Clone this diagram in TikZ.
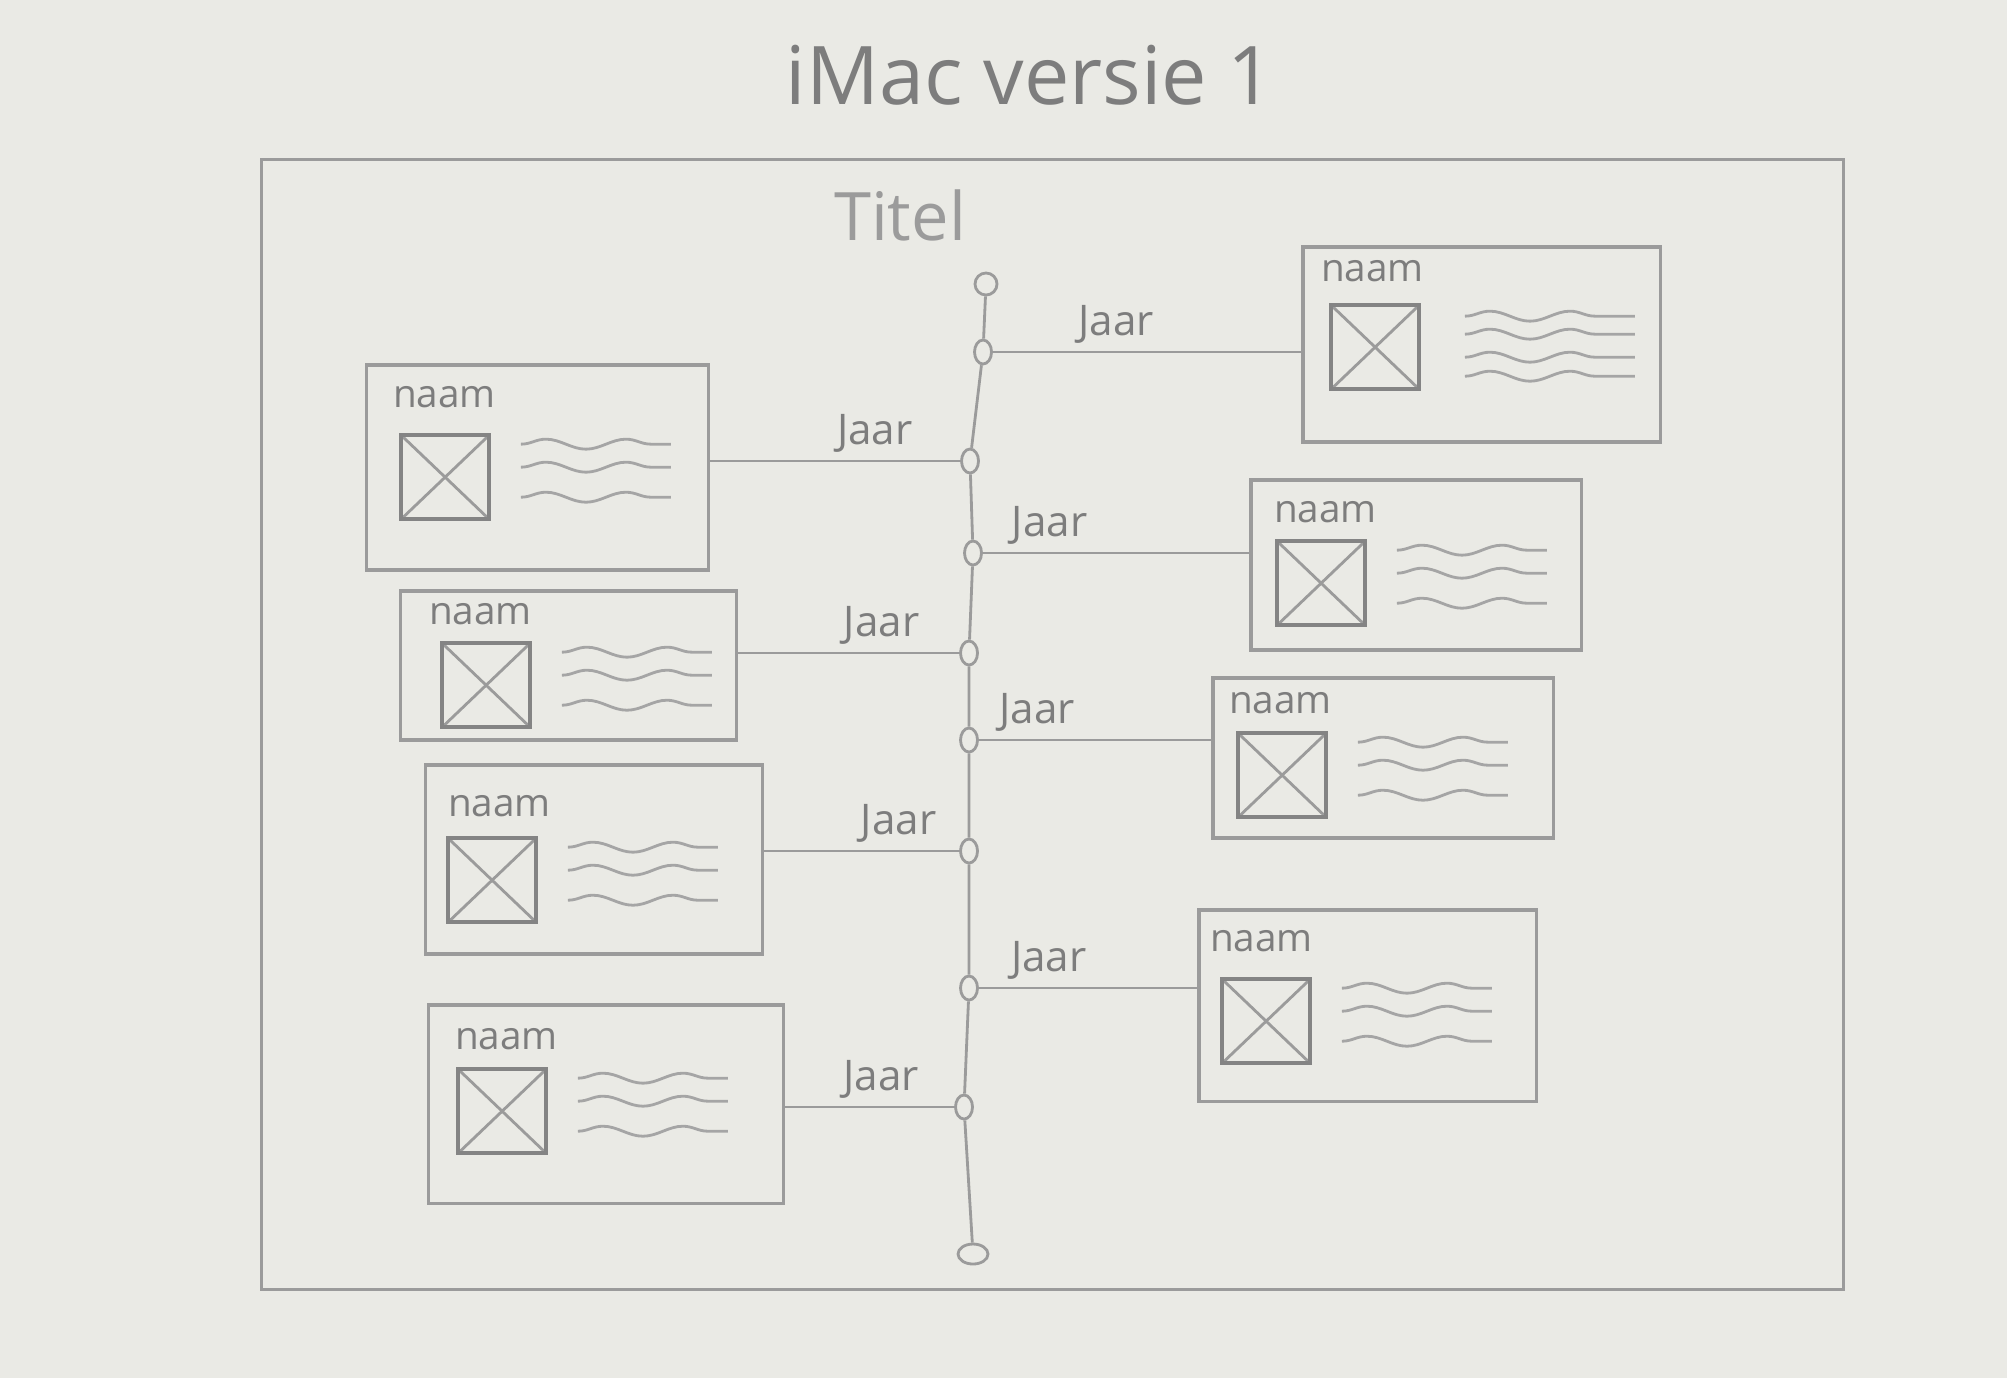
\documentclass[tikz,border=0pt]{standalone}
\usepackage{fontspec}
\setmainfont{Open Sans}
\usetikzlibrary{positioning, shapes.geometric, decorations.pathmorphing}

\definecolor{paper}{RGB}{234,234,229}
\definecolor{pencil}{RGB}{155,155,155}
\definecolor{lead}{RGB}{125,125,125}

\begin{document}
\begin{tikzpicture}[
    x=0.01cm, y=-0.01cm,
    screen/.style={rectangle, draw=pencil, line width=0.8pt, minimum width=15.81cm, minimum height=11.29cm},
    card/.style={rectangle, draw=pencil, line width=0.9pt, inner sep=0pt},
    img/.style={rectangle, draw=pencil!85!black, line width=1pt, minimum width=0.88cm, minimum height=0.84cm, inner sep=0pt,
        path picture={\draw[pencil, line width=0.8pt] (path picture bounding box.north west) -- (path picture bounding box.south east)
            (path picture bounding box.north east) -- (path picture bounding box.south west);}},
    naam/.style={font=\fontsize{11}{13}\selectfont, text=lead, inner sep=0pt},
    jaar/.style={font=\fontsize{12}{14}\selectfont, text=lead, inner sep=2pt},
    dot/.style={ellipse, draw=pencil, fill=paper, line width=0.8pt, minimum width=0.17cm, minimum height=0.24cm, inner sep=0pt},
    wave/.style={draw=pencil!90, line width=0.8pt, decorate, decoration={snake, amplitude=0.5mm, segment length=8mm}},
    link/.style={draw=pencil, line width=0.8pt},
]

\fill[paper] (0,0) rectangle (2007,1378);

% Headings
\node[font=\fontsize{23}{27}\selectfont, text=lead] (imac) at (1030,75) {iMac versie 1};
\node[screen] (scherm) at (1052.5,724.5) {};
\node[font=\fontsize{19}{23}\selectfont, text=pencil] (titel) at (900,215) {Titel};

% Timeline
\node[dot, circle, minimum size=0.22cm] (begin) at (986,284) {};
\node[dot] (dR1) at (983,352) {};
\node[dot] (dL1) at (970,461) {};
\node[dot] (dR2) at (973,553) {};
\node[dot] (dL2) at (969,653) {};
\node[dot] (dR3) at (969,740) {};
\node[dot] (dL3) at (969,851) {};
\node[dot] (dR4) at (969,988) {};
\node[dot] (dL4) at (964,1107) {};
\node[dot, minimum width=0.3cm, minimum height=0.2cm] (eind) at (973,1254) {};
\draw[link] (begin) -- (dR1) -- (dL1) -- (dR2) -- (dL2) -- (dR3) -- (dL3) -- (dR4) -- (dL4) -- (eind);

% Left cards
\node[card, minimum width=3.41cm, minimum height=2.05cm] (cardL1) at (537.5,467.5) {};
\node[card, minimum width=3.35cm, minimum height=1.49cm] (cardL2) at (568.5,665.5) {};
\node[card, minimum width=3.36cm, minimum height=1.89cm] (cardL3) at (594,859.5) {};
\node[card, minimum width=3.54cm, minimum height=1.98cm] (cardL4) at (606,1104) {};

% Right cards
\node[card, minimum width=3.57cm, minimum height=1.95cm] (cardR1) at (1481.5,344.5) {};
\node[card, minimum width=3.30cm, minimum height=1.70cm] (cardR2) at (1416,565) {};
\node[card, minimum width=3.40cm, minimum height=1.60cm] (cardR3) at (1383,758) {};
\node[card, minimum width=3.37cm, minimum height=1.91cm] (cardR4) at (1367.5,1005.5) {};

% Card contents
\node[naam, below right=0.22cm and 0.27cm of cardL1.north west] (naamL1) {naam};
\node[img, below right=0.70cm and 0.34cm of cardL1.north west] (imgL1) {};
\node[naam, below right=0.13cm and 0.29cm of cardL2.north west] (naamL2) {naam};
\node[img, below right=0.52cm and 0.41cm of cardL2.north west] (imgL2) {};
\node[naam, below right=0.31cm and 0.23cm of cardL3.north west] (naamL3) {naam};
\node[img, below right=0.73cm and 0.22cm of cardL3.north west] (imgL3) {};
\node[naam, below right=0.24cm and 0.27cm of cardL4.north west] (naamL4) {naam};
\node[img, below right=0.64cm and 0.29cm of cardL4.north west] (imgL4) {};
\node[naam, below right=0.14cm and 0.19cm of cardR1.north west] (naamR1) {naam};
\node[img, below right=0.58cm and 0.28cm of cardR1.north west] (imgR1) {};
\node[naam, below right=0.22cm and 0.24cm of cardR2.north west] (naamR2) {naam};
\node[img, below right=0.61cm and 0.26cm of cardR2.north west] (imgR2) {};
\node[naam, below right=0.15cm and 0.17cm of cardR3.north west] (naamR3) {naam};
\node[img, below right=0.55cm and 0.25cm of cardR3.north west] (imgR3) {};
\node[naam, below right=0.21cm and 0.12cm of cardR4.north west] (naamR4) {naam};
\node[img, below right=0.69cm and 0.23cm of cardR4.north west] (imgR4) {};

% Text lines
\foreach \c in {L1,L2,L3,L4,R2,R3,R4}
  \foreach \dy in {0.33,0.1,-0.2}
    \draw[wave] ([xshift=0.3cm, yshift=\dy cm]img\c.east) -- ++(150,0);
\foreach \dy in {0.31,0.13,-0.1,-0.29}
  \draw[wave] ([xshift=0.44cm, yshift=\dy cm]imgR1.east) -- ++(170,0);

% Connectors
\draw[link] (dR1) -- (dR1 -| cardR1.west) node[jaar, pos=0.4, above] {Jaar};
\draw[link] (dL1) -- (dL1 -| cardL1.east) node[jaar, pos=0.34, above] {Jaar};
\draw[link] (dR2) -- (dR2 -| cardR2.west) node[jaar, pos=0.25, above] {Jaar};
\draw[link] (dL2) -- (dL2 -| cardL2.east) node[jaar, pos=0.35, above] {Jaar};
\draw[link] (dR3) -- (dR3 -| cardR3.west) node[jaar, pos=0.25, above] {Jaar};
\draw[link] (dL3) -- (dL3 -| cardL3.east) node[jaar, pos=0.31, above] {Jaar};
\draw[link] (dR4) -- (dR4 -| cardR4.west) node[jaar, pos=0.32, above] {Jaar};
\draw[link] (dL4) -- (dL4 -| cardL4.east) node[jaar, pos=0.43, above] {Jaar};

\end{tikzpicture}
\end{document}
